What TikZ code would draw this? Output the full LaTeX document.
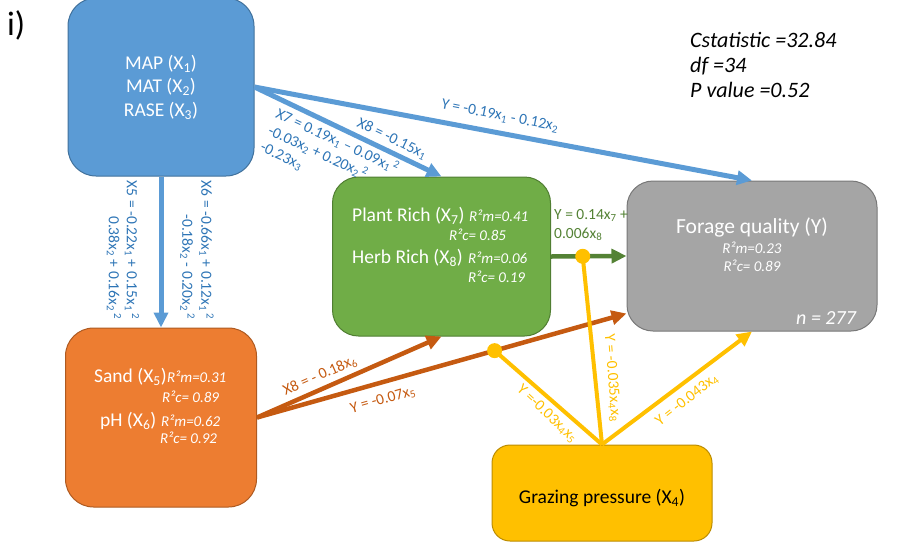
\documentclass[tikz,border=0pt]{standalone}
\usepackage{fontspec}
\setmainfont{Carlito}
\usetikzlibrary{arrows.meta,calc}

\definecolor{bluefill}{HTML}{5B9BD5}
\definecolor{blueedge}{HTML}{41719C}
\definecolor{bluetext}{HTML}{2E75B6}
\definecolor{greenfill}{HTML}{70AD47}
\definecolor{greenedge}{HTML}{507E32}
\definecolor{greenline}{HTML}{548235}
\definecolor{grayfill}{HTML}{A5A5A5}
\definecolor{grayedge}{HTML}{787878}
\definecolor{orangefill}{HTML}{ED7D31}
\definecolor{orangeedge}{HTML}{AE5A21}
\definecolor{orangeline}{HTML}{C55A11}
\definecolor{yellowfill}{HTML}{FFC000}
\definecolor{yellowedge}{HTML}{BC8C00}

\newcommand{\sbs}[1]{\textsubscript{#1}}
\newcommand{\sps}[1]{\textsuperscript{#1}}

\begin{document}
\begin{tikzpicture}[x=1pt,y=-1pt,
  box/.style={rectangle, rounded corners=#1, line width=1pt, inner sep=0pt},
  title/.style={font=\fontsize{19.5}{23.5}\selectfont, text=white, inner sep=0pt},
  rsq/.style={font=\fontsize{15}{18}\selectfont\itshape, text=white, anchor=base west, inner sep=0pt},
  lbl/.style={font=\fontsize{15.5}{18.5}\selectfont, inner sep=0pt},
  stat/.style={font=\fontsize{22}{25}\selectfont\itshape, anchor=base west, inner sep=0pt},
  tip/.style={-{Triangle[length=15pt,width=14pt]}},
  blueflow/.style={draw=bluefill, line width=5pt, tip},
  orangeflow/.style={draw=orangeline, line width=4.5pt},
  greenflow/.style={draw=greenline, line width=4.5pt, tip},
  yellowflow/.style={draw=yellowfill, line width=4pt},
  joint/.style={circle, fill=yellowfill, inner sep=0pt, minimum size=15pt}
]
\useasboundingbox (0,0) rectangle (922,550);

% boxes
\node[box=28pt, fill=bluefill, draw=blueedge, minimum width=186pt, minimum height=178pt] (clim) at (161,87) {};
\node[box=26pt, fill=greenfill, draw=greenedge, minimum width=218pt, minimum height=159pt] (plant) at (441.5,256.5) {};
\node[box=26pt, fill=grayfill, draw=grayedge, minimum width=250pt, minimum height=150pt] (forage) at (752,256) {};
\node[box=28pt, fill=orangefill, draw=orangeedge, minimum width=191pt, minimum height=179pt] (soil) at (161,417.5) {};
\node[box=18pt, fill=yellowfill, draw=yellowedge, minimum width=220pt, minimum height=96pt] (graze) at (602,493) {};

% climate box text
\node[title, align=center] (climtxt) at (161,87) {MAP (X\sbs{1})\\MAT (X\sbs{2})\\RASE (X\sbs{3})};

% richness box text
\node[title, anchor=base west] (prich) at (352,221) {Plant Rich (X\sbs{7})};
\node[rsq] (prm) at (469,221) {R²m=0.41};
\node[rsq] (prc) at (449,240) {R²c= 0.85};
\node[title, anchor=base west] (hrich) at (352,263) {Herb Rich (X\sbs{8})};
\node[rsq] (hrm) at (468,263) {R²m=0.06};
\node[rsq] (hrc) at (468,282) {R²c= 0.19};

% forage box text
\node[font=\fontsize{21.5}{25}\selectfont, text=white, anchor=base, inner sep=0pt] (ftxt) at (752,233) {Forage quality (Y)};
\node[rsq, anchor=base] (frm) at (752,253) {R²m=0.23};
\node[rsq, anchor=base] (frc) at (752,271) {R²c= 0.89};
\node[font=\fontsize{20}{24}\selectfont\itshape, text=white, anchor=base west, inner sep=0pt] (ntxt) at (796,324) {n = 277};

% soil box text
\node[title, anchor=base west] (sand) at (94,382) {Sand (X\sbs{5})};
\node[rsq] (srm) at (167,382) {R²m=0.31};
\node[rsq] (src) at (162,402) {R²c= 0.89};
\node[title, anchor=base west] (ph) at (100,426) {pH (X\sbs{6})};
\node[rsq] (phm) at (161,426) {R²m=0.62};
\node[rsq] (phc) at (160,443) {R²c= 0.92};

% grazing box text
\node[font=\fontsize{19.5}{23.5}\selectfont, text=black, anchor=base, inner sep=0pt] (gtxt) at (602,503) {Grazing pressure (X\sbs{4})};

% model fit statistics and panel tag
\node[stat] (cstat) at (690,47) {Cstatistic =32.84};
\node[stat] (dfv) at (690,72) {df =34};
\node[stat] (pval) at (690,97) {P value =0.52};
\node[font=\fontsize{34}{34}\selectfont, anchor=base west, inner sep=0pt] (tag) at (7,35) {i)};

% attachment points
\coordinate (gin) at ($(forage.south west)+(0,-18)$);

% blue paths
\draw[blueflow] (clim.east) -- (forage.north);
\draw[blueflow] (clim.east) -- (plant.north);
\draw[blueflow] (clim.south) -- (soil.north);

% orange paths
\draw[orangeflow, tip] (soil.east) -- (plant.south);
\draw[orangeflow, tip] (soil.east) -- (gin);
\path (soil.east) -- (gin) coordinate[pos=0.643] (dotO);

% green path
\draw[greenflow] (plant.east) -- (forage.west);
\path (plant.east) -- (forage.west) coordinate[pos=0.42] (dotG);

% grazing paths
\draw[yellowflow, tip] (graze.north) -- (forage.south);
\draw[yellowflow] (graze.north) -- (dotG);
\draw[yellowflow] (graze.north) -- (dotO);
\node[joint] (jG) at (dotG) {};
\node[joint] (jO) at (dotO) {};

% path labels
\node[lbl, text=bluetext, rotate=-11.2] (lyc) at (500,116) {Y = -0.19x\sbs{1} - 0.12x\sbs{2}};
\node[lbl, text=bluetext, rotate=-25.8] (lx8) at (392,139) {X8 = -0.15x\sbs{1}};
\node[lbl, text=bluetext, rotate=-25, align=left, anchor=north west] (lx7) at (280,106)
  {X7 = 0.19x\sbs{1} – 0.09x\sbs{1}\sps{\,2}\\-0.03x\sbs{2} + 0.20x\sbs{2}\sps{\,2}\\-0.23x\sbs{3}};
\node[lbl, text=bluetext, rotate=-90, align=right, font=\fontsize{15.5}{18}\selectfont] (lx5) at (123,250)
  {X5 = -0.22x\sbs{1} + 0.15x\sbs{1}\sps{\,2}\\0.38x\sbs{2} + 0.16x\sbs{2}\sps{\,2}};
\node[lbl, text=bluetext, rotate=-90, align=right, font=\fontsize{15.5}{19}\selectfont] (lx6) at (197,250)
  {X6 = -0.66x\sbs{1} + 0.12x\sbs{1}\sps{\,2}\\-0.18x\sbs{2} - 0.20x\sbs{2}\sps{\,2}};
\node[lbl, text=orangeline, rotate=24] (lx8s) at (320,376) {X8 = - 0.18x\sbs{6}};
\node[lbl, text=orangeline, rotate=16] (lys) at (383,400) {Y = -0.07x\sbs{5}};
\node[lbl, text=greenline, anchor=base west] (lyp1) at (554,219) {Y = 0.14x\sbs{7} +};
\node[lbl, text=greenline, anchor=base west] (lyp2) at (554,238) {0.006x\sbs{8}};
\node[lbl, text=yellowfill, rotate=-43] (lyg1) at (547,414) {Y =-0.03x\sbs{4}x\sbs{5}};
\node[lbl, text=yellowfill, rotate=-85.5] (lyg2) at (612,378) {Y = -0.035x\sbs{4}x\sbs{8}};
\node[lbl, text=yellowfill, rotate=38] (lyg3) at (687,400) {Y = -0.043x\sbs{4}};
\end{tikzpicture}
\end{document}
